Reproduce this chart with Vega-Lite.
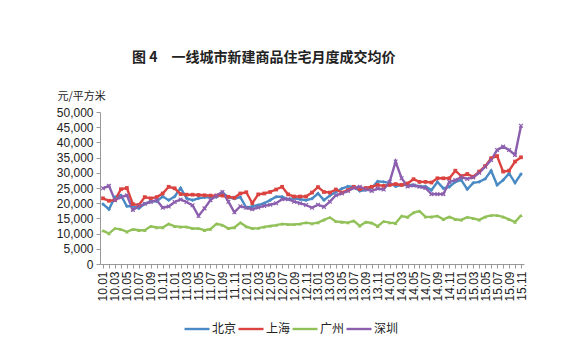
{
 "$schema": "https://vega.github.io/schema/vega-lite/v6.json",
 "width": 424,
 "height": 152,
 "autosize": {"type": "none"},
 "padding": {"left": 100, "top": 112, "right": 58, "bottom": 96},
 "background": "white",
 "title": {"text": "图 4　一线城市新建商品住宅月度成交均价", "anchor": "start", "frame": "group", "dx": 32, "offset": 25, "fontSize": 14, "fontWeight": "bold", "font": "Noto Sans CJK SC", "color": "#222222"},
 "config": {"view": {"stroke": null}},
 "data": {"values": [
  {"m":"10.01","北京":19700,"上海":21600,"广州":11000,"深圳":24900},
  {"m":"10.02","北京":18000,"上海":20800,"广州":10000,"深圳":25700},
  {"m":"10.03","北京":22000,"上海":21000,"广州":11700,"深圳":21000},
  {"m":"10.04","北京":22600,"上海":24600,"广州":11400,"深圳":22000},
  {"m":"10.05","北京":19000,"上海":25000,"广州":10600,"深圳":22600},
  {"m":"10.06","北京":19000,"上海":19700,"广州":11400,"深圳":17800},
  {"m":"10.07","北京":18300,"上海":19400,"广州":11100,"深圳":19000},
  {"m":"10.08","北京":19800,"上海":22000,"广州":11100,"深圳":19800},
  {"m":"10.09","北京":20600,"上海":21600,"广州":12400,"深圳":20400},
  {"m":"10.10","北京":20600,"上海":22000,"广州":12000,"深圳":21000},
  {"m":"10.11","北京":22200,"上海":23200,"广州":12000,"深圳":18500},
  {"m":"10.12","北京":21000,"上海":25400,"广州":13200,"深圳":18900},
  {"m":"11.01","北京":22200,"上海":24900,"广州":12400,"深圳":20400},
  {"m":"11.02","北京":25000,"上海":23000,"广州":12200,"深圳":21200},
  {"m":"11.03","北京":21600,"上海":22800,"广州":12200,"深圳":20400},
  {"m":"11.04","北京":21000,"上海":22800,"广州":11700,"深圳":19300},
  {"m":"11.05","北京":21600,"上海":22700,"广州":11700,"深圳":15800},
  {"m":"11.06","北京":21900,"上海":22600,"广州":11100,"深圳":18300},
  {"m":"11.07","北京":21900,"上海":22500,"广州":11500,"深圳":21000},
  {"m":"11.08","北京":22000,"上海":22500,"广州":13200,"深圳":22500},
  {"m":"11.09","北京":23500,"上海":22500,"广州":12800,"深圳":23700},
  {"m":"11.10","北京":22000,"上海":22100,"广州":11700,"深圳":20500},
  {"m":"11.11","北京":21500,"上海":21800,"广州":12000,"深圳":17000},
  {"m":"11.12","北京":22000,"上海":23200,"广州":13600,"深圳":19000},
  {"m":"12.01","北京":18500,"上海":23600,"广州":12300,"深圳":18500},
  {"m":"12.02","北京":18900,"上海":20000,"广州":11700,"深圳":18000},
  {"m":"12.03","北京":19400,"上海":22900,"广州":11800,"深圳":18600},
  {"m":"12.04","北京":20000,"上海":23200,"广州":12200,"深圳":19100},
  {"m":"12.05","北京":21000,"上海":23700,"广州":12500,"深圳":19500},
  {"m":"12.06","北京":22100,"上海":24500,"广州":12800,"深圳":20000},
  {"m":"12.07","北京":22100,"上海":25400,"广州":13200,"深圳":21300},
  {"m":"12.08","北京":21300,"上海":22900,"广州":13000,"深圳":21300},
  {"m":"12.09","北京":21600,"上海":22200,"广州":13000,"深圳":20500},
  {"m":"12.10","北京":21300,"上海":22200,"广州":13200,"深圳":20000},
  {"m":"12.11","北京":21000,"上海":22200,"广州":13600,"深圳":19400},
  {"m":"12.12","北京":21500,"上海":23500,"广州":13300,"深圳":18500},
  {"m":"13.01","北京":23200,"上海":25300,"广州":13600,"深圳":19500},
  {"m":"13.02","北京":21000,"上海":23700,"广州":14500,"深圳":18800},
  {"m":"13.03","北京":22500,"上海":23500,"广州":15300,"深圳":20500},
  {"m":"13.04","北京":23700,"上海":24500,"广州":14000,"深圳":22600},
  {"m":"13.05","北京":24800,"上海":23500,"广州":13800,"深圳":23200},
  {"m":"13.06","北京":25500,"上海":24300,"广州":13600,"深圳":24000},
  {"m":"13.07","北京":25400,"上海":25400,"广州":14200,"深圳":25000},
  {"m":"13.08","北京":24000,"上海":24600,"广州":12500,"深圳":25400},
  {"m":"13.09","北京":24300,"上海":25000,"广州":13800,"深圳":24600},
  {"m":"13.10","北京":25000,"上海":25400,"广州":13500,"深圳":24000},
  {"m":"13.11","北京":27200,"上海":26000,"广州":12400,"深圳":24800},
  {"m":"13.12","北京":27000,"上海":25700,"广州":14000,"深圳":24500},
  {"m":"14.01","北京":26700,"上海":26000,"广州":13600,"深圳":27000},
  {"m":"14.02","北京":25500,"上海":26300,"广州":13400,"深圳":33700},
  {"m":"14.03","北京":26000,"上海":26000,"广州":15800,"深圳":28200},
  {"m":"14.04","北京":26000,"上海":26500,"广州":15400,"深圳":25500},
  {"m":"14.05","北京":26000,"上海":27900,"广州":16900,"深圳":25800},
  {"m":"14.06","北京":25500,"上海":27000,"广州":17400,"深圳":25400},
  {"m":"14.07","北京":25500,"上海":27000,"广州":15500,"深圳":25000},
  {"m":"14.08","北京":24300,"上海":26800,"广州":15500,"深圳":23000},
  {"m":"14.09","北京":27000,"上海":28200,"广州":15800,"深圳":23000},
  {"m":"14.10","北京":24900,"上海":28200,"广州":14700,"深圳":23000},
  {"m":"14.11","北京":25400,"上海":28200,"广州":15500,"深圳":27000},
  {"m":"14.12","北京":27000,"上海":30700,"广州":14700,"深圳":27600},
  {"m":"15.01","北京":27600,"上海":28900,"广州":14500,"深圳":28500},
  {"m":"15.02","北京":24600,"上海":29600,"广州":15400,"深圳":28000},
  {"m":"15.03","北京":26700,"上海":28700,"广州":15000,"深圳":28500},
  {"m":"15.04","北京":27000,"上海":30400,"广州":14500,"深圳":30000},
  {"m":"15.05","北京":28000,"上海":32200,"广州":15500,"深圳":32000},
  {"m":"15.06","北京":30700,"上海":34800,"广州":16000,"深圳":34200},
  {"m":"15.07","北京":26000,"上海":35500,"广州":16000,"深圳":37500},
  {"m":"15.08","北京":27600,"上海":30400,"广州":15500,"深圳":38600},
  {"m":"15.09","北京":29800,"上海":30700,"广州":14700,"深圳":37500},
  {"m":"15.10","北京":26700,"上海":33700,"广州":13800,"深圳":35900},
  {"m":"15.11","北京":29600,"上海":35100,"广州":16000,"深圳":45500}
 ]},
 "transform": [{"fold": ["北京", "上海", "广州", "深圳"], "as": ["城市", "价格"]}],
 "encoding": {
  "x": {"field": "m", "type": "ordinal", "scale": {"type": "point", "padding": 0.5},
   "axis": {"title": null, "labelAngle": 270, "labelOverlap": false,
    "labelExpr": "indexof(['01','03','05','07','09','11'], substring(datum.value, 3, 5)) >= 0 ? datum.value : ''",
    "labelFontSize": 12, "labelFont": "Liberation Sans", "labelColor": "#222222", "labelPadding": 3,
    "tickSize": 4, "tickColor": "#999999", "domainColor": "#999999"}},
  "y": {"field": "价格", "type": "quantitative", "scale": {"domain": [0, 50000]},
   "axis": {"title": "元/平方米", "titleAngle": 0, "titleAlign": "left", "titleBaseline": "alphabetic", "titleX": -43, "titleY": -13,
    "titleFontSize": 11, "titleFontWeight": "normal", "titleFont": "Noto Sans CJK SC", "titleColor": "#222222",
    "values": [0, 5000, 10000, 15000, 20000, 25000, 30000, 35000, 40000, 45000, 50000], "format": ",.0f",
    "labelFontSize": 12, "labelFont": "Liberation Sans", "labelColor": "#222222", "labelPadding": 3,
    "grid": false, "tickSize": 4, "tickColor": "#999999", "domainColor": "#999999"}}
 },
 "layer": [
  {"mark": {"type": "line", "strokeWidth": 2.4},
   "encoding": {
    "color": {"field": "城市", "type": "nominal", "sort": ["北京", "上海", "广州", "深圳"],
     "scale": {"domain": ["北京", "上海", "广州", "深圳"], "range": ["#4A8AC4", "#DB4340", "#92C15A", "#8B5FAE"]},
     "legend": {"title": null, "orient": "none", "legendX": 83, "legendY": 203, "direction": "horizontal",
      "symbolType": "stroke", "symbolSize": 625, "symbolStrokeWidth": 2.4, "labelFontSize": 12, "labelFont": "Noto Sans CJK SC",
      "labelColor": "#222222", "columnPadding": -9, "labelOffset": 1}}}},
  {"transform": [{"filter": {"field": "城市", "equal": "北京"}}],
   "mark": {"type": "point", "filled": true, "size": 14, "shape": "diamond", "color": "#4A8AC4", "opacity": 1}},
  {"transform": [{"filter": {"field": "城市", "equal": "上海"}}],
   "mark": {"type": "point", "filled": true, "size": 14, "shape": "square", "color": "#DB4340", "opacity": 1}},
  {"transform": [{"filter": {"field": "城市", "equal": "广州"}}],
   "mark": {"type": "point", "filled": true, "size": 14, "shape": "triangle-up", "color": "#92C15A", "opacity": 1}},
  {"transform": [{"filter": {"field": "城市", "equal": "深圳"}}],
   "mark": {"type": "point", "filled": false, "size": 14, "shape": "M-1,-1L1,1M-1,1L1,-1", "color": "#8B5FAE", "strokeWidth": 1.2, "opacity": 1}}
 ]
}
